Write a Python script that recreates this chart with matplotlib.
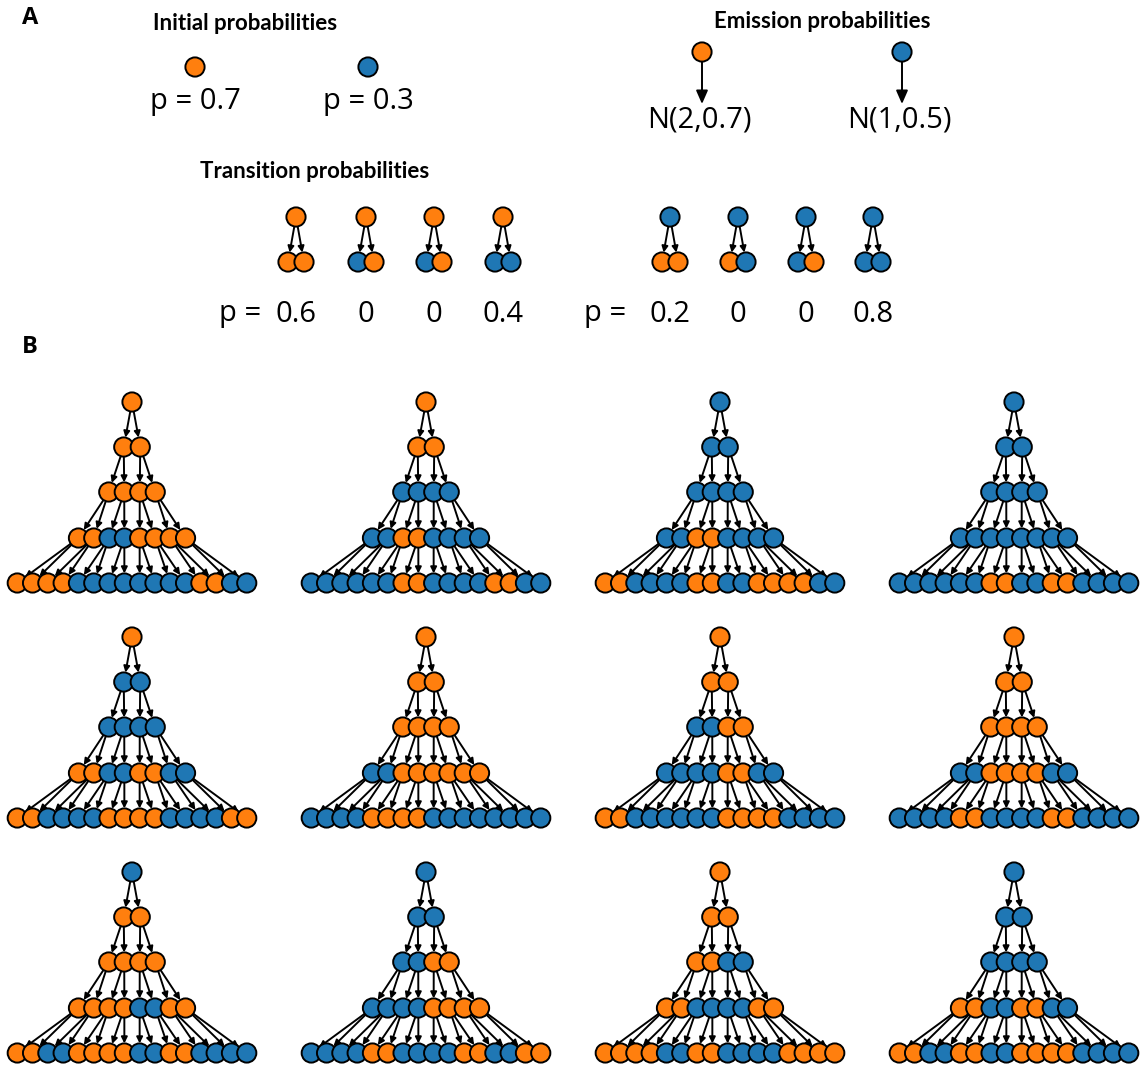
import matplotlib
matplotlib.use('Agg')
import matplotlib.pyplot as plt
from matplotlib.patches import Circle, FancyArrowPatch
import numpy as np

plt.rcParams['font.family'] = ['Open Sans', 'DejaVu Sans']

ORANGE = '#ff7f0e'
BLUE = '#1f77b4'
col = {'O': ORANGE, 'B': BLUE}

# ---- panel A data
init_states = ['O', 'B']
init_probs = [0.7, 0.3]
emit_states = ['O', 'B']
emit_labels = ['N(2,0.7)', 'N(1,0.5)']
trans_parents = ['O', 'B']
trans_children = [['OO', 'BO', 'BO', 'BB'], ['OO', 'OB', 'BO', 'BB']]
trans_probs = [[0.6, 0, 0, 0.4], [0.2, 0, 0, 0.8]]

# ---- panel B data: hidden states per level (root -> leaves), 12 sampled trees
trees = [
    ['O', 'OO', 'OOOO', 'OOBBOOOO', 'OOOOBBBBBBBBOOBB'],
    ['O', 'OO', 'BBBB', 'BBOOBBBB', 'BBBBBBOOBBBBOOBB'],
    ['B', 'BB', 'BBBB', 'BBOOBBBB', 'OOBBBBOOBBOOOOBB'],
    ['B', 'BB', 'BBBB', 'BBBBBBBB', 'BBBBBBOOBBOOBBBB'],
    ['O', 'BB', 'BBBB', 'OOBBOOBB', 'OOBBBBOOOOBBBBOO'],
    ['O', 'OO', 'OOOO', 'BBOOOOOO', 'BBBBOOOOBBBBBBBB'],
    ['O', 'OO', 'BBOO', 'BBBBOOBB', 'OOBBBBBBOOOOBBBB'],
    ['O', 'OO', 'OOOO', 'BBOOOOBB', 'BBBBOOBBBBOOBBBB'],
    ['B', 'OO', 'OOOO', 'OOOOBBOO', 'OOBBOOOOBBOOBBBB'],
    ['B', 'BB', 'BBOO', 'BBBBOOOO', 'BBBBOOBBBBOOBBOO'],
    ['O', 'OO', 'OOBB', 'OOBBBBOO', 'OOOOBBOOBBBBOOOO'],
    ['B', 'BB', 'BBBB', 'OOBBOOBB', 'OOBBOOBBOOOOBBBB'],
]

R = 9.6
LW = 1.4

fig = plt.figure(figsize=(11.43, 10.70), dpi=100)
ax = fig.add_axes([0, 0, 1, 1])
ax.set_xlim(0, 1143)
ax.set_ylim(1070, 0)
ax.axis('off')

HEAD = dict(fontsize=16, fontweight='bold', ha='center', va='center', family=['Lato', 'DejaVu Sans'])


def node(x, y, s, z=3):
    ax.add_patch(Circle((x, y), R, facecolor=col[s], edgecolor='black', lw=LW, zorder=z))


def arrow(p, c, ms=8, head='-|>,head_length=0.6,head_width=0.3', lw=LW):
    p = np.array(p, float)
    c = np.array(c, float)
    d = (c - p) / np.linalg.norm(c - p)
    a = FancyArrowPatch(p + d * R, c - d * R, arrowstyle=head, mutation_scale=ms,
                        color='black', lw=lw, shrinkA=0, shrinkB=0, zorder=2)
    ax.add_patch(a)


# ---- panel A
ax.text(30, 18, 'A', fontsize=17, fontweight='bold', ha='center', va='center')
ax.text(30, 347, 'B', fontsize=17, fontweight='bold', ha='center', va='center')

ax.text(245, 23, 'Initial probabilities', **HEAD)
for x, s, p in zip([195, 368], init_states, init_probs):
    node(x, 67, s)
    ax.text(x, 101, f'p = {p}', fontsize=21, ha='center', va='center')

ax.text(822, 22, 'Emission probabilities', **HEAD)
for x, s, lab in zip([702, 902], emit_states, emit_labels):
    node(x, 52, s)
    arrow((x, 52), (x, 104 + R), ms=10, head='-|>,head_length=0.8,head_width=0.35')
    ax.text(x - 3, 120, lab, fontsize=21, ha='center', va='center')

ax.text(315, 172, 'Transition probabilities', **HEAD)
trans_x = [[296, 366, 434, 503], [670, 738, 806, 873]]
plabel_x = [240, 605]
for ps, xs, kids, probs, lx in zip(trans_parents, trans_x, trans_children, trans_probs, plabel_x):
    ax.text(lx, 314, 'p =', fontsize=21, ha='center', va='center')
    for x, ch, pr in zip(xs, kids, probs):
        node(x, 217, ps)
        for k, c in enumerate(ch):
            cx = x - 8 + 16 * k
            arrow((x, 217), (cx, 262), ms=6)
            node(cx, 262, c)
        ax.text(x, 314, f'{pr}', fontsize=21, ha='center', va='center')

# ---- panel B
tree_cx = [132, 426, 720, 1014]
tree_ry = [402, 637, 872]
level_dy = [0, 45, 90, 136, 181]
level_dx = [0, 16.5, 15.5, 15.3, 15.3]

for t, levels in enumerate(trees):
    cx = tree_cx[t % 4]
    ry = tree_ry[t // 4]
    pos = []
    for L, states in enumerate(levels):
        n = len(states)
        xs = cx + (np.arange(n) - (n - 1) / 2) * level_dx[L]
        pos.append([(x, ry + level_dy[L]) for x in xs])
    for L in range(len(levels) - 1):
        for i, pp in enumerate(pos[L]):
            for j in (2 * i, 2 * i + 1):
                arrow(pp, pos[L + 1][j], ms=6)
    for L, states in enumerate(levels):
        for (x, y), s in zip(pos[L], states):
            node(x, y, s)

fig.savefig('out.png', dpi=100)
